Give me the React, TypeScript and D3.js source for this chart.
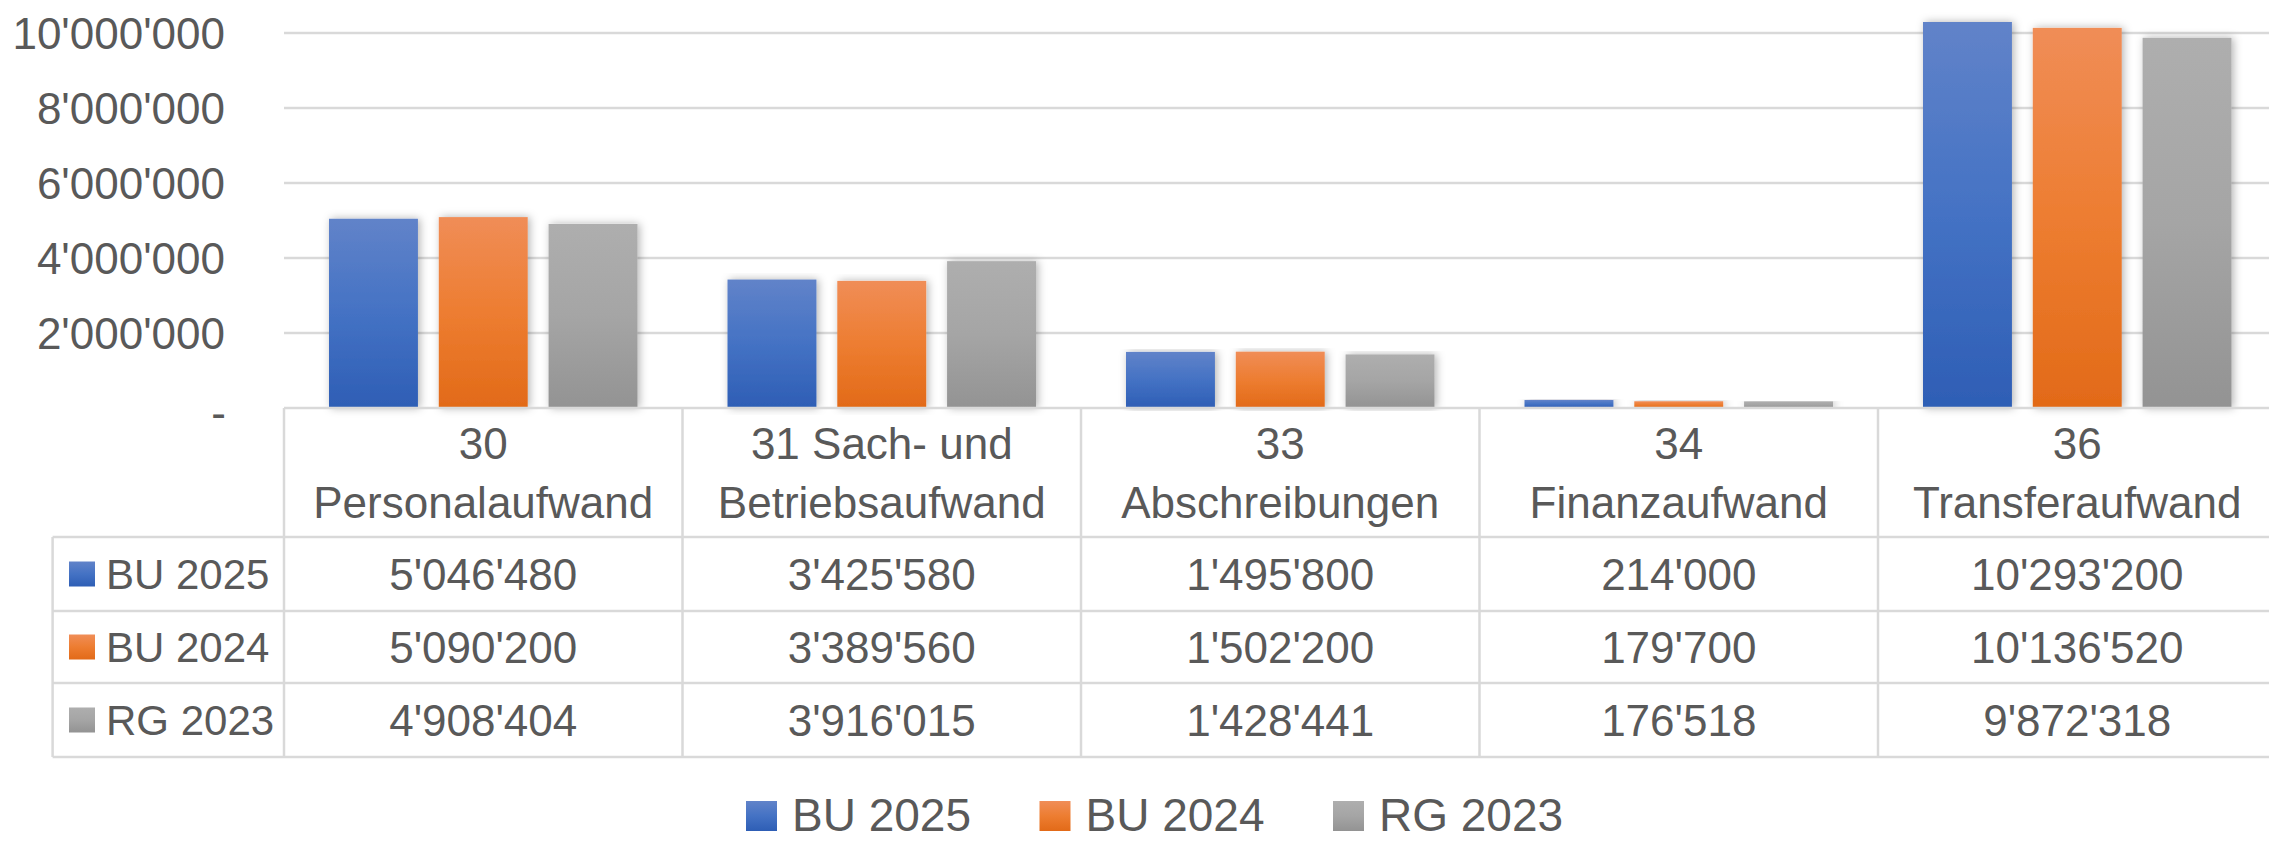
import * as d3 from "d3";

// chart data
const categories = [
  ["30", "Personalaufwand"],
  ["31 Sach- und", "Betriebsaufwand"],
  ["33", "Abschreibungen"],
  ["34", "Finanzaufwand"],
  ["36", "Transferaufwand"],
];
const seriesNames = ["BU 2025", "BU 2024", "RG 2023"];
const bu2025 = [5046480, 3425580, 1495800, 214000, 10293200];
const bu2024 = [5090200, 3389560, 1502200, 179700, 10136520];
const rg2023 = [4908404, 3916015, 1428441, 176518, 9872318];
const yTicks = [0, 2000000, 4000000, 6000000, 8000000, 10000000];

const seriesValues = [bu2025, bu2024, rg2023];
const gradients = [
  ["#6183c9", "#4472c4", "#2e5eb5"],
  ["#f08d57", "#ed7d31", "#e26a18"],
  ["#aeaeae", "#a5a5a5", "#939393"],
];

const swiss = d3.formatLocale({ decimal: ".", thousands: "'", grouping: [3], currency: ["", ""] });
const fmt = (v: number) => (v === 0 ? "-" : swiss.format(",.0f")(v));

export default function App() {
  const width = 2269;
  const height = 842;
  const plotLeft = 284;
  const colW = 398.5;
  const tableLeft = 52.6;
  const font = "'Liberation Sans', Arial, sans-serif";
  const textColor = "#595959";
  const lineColor = "#d9d9d9";

  const x0 = d3.scaleBand<number>(d3.range(categories.length), [plotLeft, plotLeft + colW * categories.length]);
  const x1 = d3.scaleBand<number>(d3.range(seriesNames.length), [45, colW - 45]).paddingInner(0.19);
  const y = d3.scaleLinear([0, 10000000], [408, 33]);

  // table rows: header bottom, then three data rows
  const headerTop = 408;
  const headerBottom = 537;
  const rowEdges = [537, 611, 683, 757];
  const tableRight = plotLeft + colW * categories.length;

  return (
    <svg
      width={width}
      height={height}
      style={{ position: "absolute", left: 0, top: 0, background: "#fff" }}
      fontFamily={font}
    >
      <defs>
        {gradients.map((g, i) => (
          <linearGradient key={i} id={`grad${i}`} x1="0" y1="0" x2="0" y2="1">
            <stop offset="0" stopColor={g[0]} />
            <stop offset="0.5" stopColor={g[1]} />
            <stop offset="1" stopColor={g[2]} />
          </linearGradient>
        ))}
        <filter id="shadow" x="-20%" y="-5%" width="140%" height="110%">
          <feDropShadow dx="2" dy="0" stdDeviation="4" floodColor="#000" floodOpacity="0.3" />
        </filter>
      </defs>

      {/* gridlines + y labels */}
      {yTicks.map((t) => (
        <g key={t}>
          {t > 0 && (
            <line x1={plotLeft} x2={tableRight} y1={y(t)} y2={y(t)} stroke={lineColor} strokeWidth={2.5} />
          )}
          <text
            x={t === 0 ? 226 : 225}
            y={y(t) + (t === 0 ? 4 : 0)}
            textAnchor="end"
            dominantBaseline="central"
            fontSize={44}
            fill={textColor}
          >
            {fmt(t)}
          </text>
        </g>
      ))}

      {/* bars */}
      {categories.map((_, ci) => (
        <g key={ci} transform={`translate(${x0(ci)},0)`}>
          {seriesValues.map((vals, si) => (
            <rect
              key={si}
              x={x1(si)}
              y={y(vals[ci])}
              width={x1.bandwidth()}
              height={y(0) - y(vals[ci])}
              fill={`url(#grad${si})`}
              filter="url(#shadow)"
            />
          ))}
        </g>
      ))}

      {/* data table lines */}
      <line x1={plotLeft} x2={tableRight} y1={headerTop} y2={headerTop} stroke={lineColor} strokeWidth={2.5} />
      {rowEdges.map((ry) => (
        <line key={ry} x1={tableLeft} x2={tableRight} y1={ry} y2={ry} stroke={lineColor} strokeWidth={2.5} />
      ))}
      <line x1={tableLeft} x2={tableLeft} y1={headerBottom} y2={rowEdges[3]} stroke={lineColor} strokeWidth={2.5} />
      {d3.range(categories.length + 1).map((i) => (
        <line
          key={i}
          x1={plotLeft + colW * i}
          x2={plotLeft + colW * i}
          y1={headerTop}
          y2={rowEdges[3]}
          stroke={lineColor}
          strokeWidth={2.5}
        />
      ))}

      {/* category headers */}
      {categories.map((lines, ci) => (
        <text
          key={ci}
          x={x0(ci)! + colW / 2}
          textAnchor="middle"
          fontSize={44}
          fill={textColor}
        >
          <tspan x={x0(ci)! + colW / 2} y={443} dominantBaseline="central">{lines[0]}</tspan>
          <tspan x={x0(ci)! + colW / 2} y={502} dominantBaseline="central">{lines[1]}</tspan>
        </text>
      ))}

      {/* table rows */}
      {seriesNames.map((name, si) => {
        const cy = (rowEdges[si] + rowEdges[si + 1]) / 2;
        return (
          <g key={name}>
            <rect x={69} y={cy - 12.5} width={26} height={25} fill={`url(#grad${si})`} />
            <text x={106} y={cy} dominantBaseline="central" fontSize={42} fill={textColor}>
              {name}
            </text>
            {seriesValues[si].map((v, ci) => (
              <text
                key={ci}
                x={x0(ci)! + colW / 2}
                y={cy}
                textAnchor="middle"
                dominantBaseline="central"
                fontSize={44}
                fill={textColor}
              >
                {fmt(v)}
              </text>
            ))}
          </g>
        );
      })}

      {/* legend */}
      {seriesNames.map((name, si) => {
        const lx = 746 + si * 293.5;
        return (
          <g key={name}>
            <rect x={lx} y={801} width={31} height={30} fill={`url(#grad${si})`} />
            <text x={lx + 46} y={815} dominantBaseline="central" fontSize={46} fill={textColor}>
              {name}
            </text>
          </g>
        );
      })}
    </svg>
  );
}
